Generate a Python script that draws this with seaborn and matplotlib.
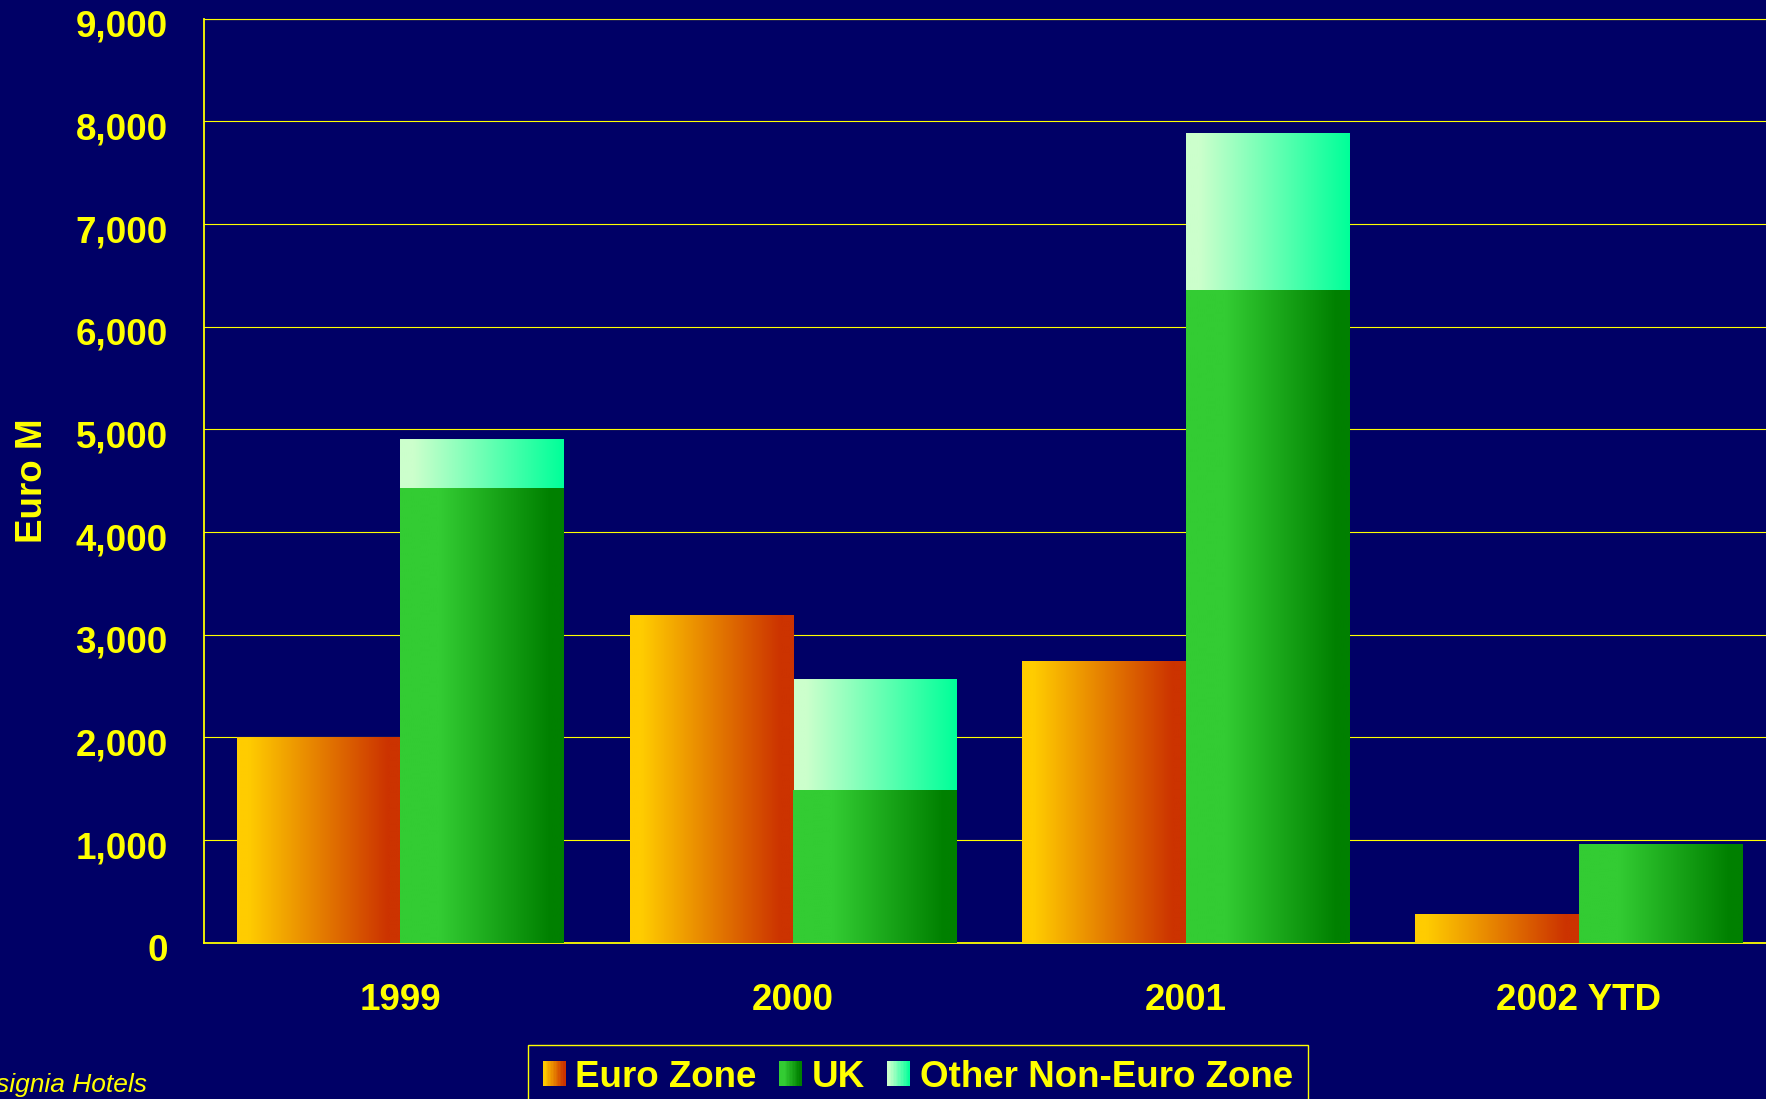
import numpy as np
import pandas as pd
import matplotlib
matplotlib.use("Agg")
import matplotlib.pyplot as plt
import seaborn as sns
from matplotlib.colors import LinearSegmentedColormap
from matplotlib.patches import Rectangle
from matplotlib.legend_handler import HandlerBase
from matplotlib.ticker import FuncFormatter, MultipleLocator
from matplotlib.transforms import ScaledTranslation

# Hotel investment volume by buyer origin (Euro M)
years = ["1999", "2000", "2001", "2002 YTD"]
euro_zone = [2000, 3190, 2740, 280]
uk = [4430, 1490, 6360, 960]
other_non_euro = [470, 1080, 1520, 0]

legend_labels = ["Euro Zone", "UK", "Other Non-Euro Zone"]

NAVY = "#000066"
YELLOW = "#FFFF00"
FS = 26.5

sns.set_style("dark")
plt.rcParams["font.family"] = ["Liberation Sans", "DejaVu Sans"]
plt.rcParams["font.weight"] = "bold"

# horizontal gradient fills for each series
cmap_euro = LinearSegmentedColormap.from_list(
    "euro", [(0.0, "#FFCC00"), (0.07, "#FFCC00"), (0.92, "#CC3300"), (1.0, "#CC3300")])
cmap_uk = LinearSegmentedColormap.from_list(
    "uk", [(0.0, "#33CC33"), (0.24, "#33CC33"), (0.92, "#008000"), (1.0, "#008000")])
cmap_other = LinearSegmentedColormap.from_list(
    "other", [(0.0, "#CCFFCC"), (0.08, "#CCFFCC"), (1.0, "#00FF99")])

fig = plt.figure(figsize=(17.66, 10.99), dpi=100, facecolor=NAVY)
ax = fig.add_axes([0.1155, 0.1422, 0.8896, 0.8408])
ax.set_facecolor(NAVY)

# stacked totals (UK + other non-euro) go underneath, UK and Euro Zone on top
totals = [u + o for u, o in zip(uk, other_non_euro)]
df_top = pd.DataFrame({
    "year": years * 2,
    "region": ["Euro Zone"] * len(years) + ["UK"] * len(years),
    "value": euro_zone + totals,
})
df_base = pd.DataFrame({
    "year": years * 2,
    "region": ["Euro Zone"] * len(years) + ["UK"] * len(years),
    "value": euro_zone + uk,
})

grad = np.linspace(0, 1, 256).reshape(1, -1)


def paint(patches, uk_cmap, z):
    for p in patches:
        x0, y0 = p.get_x(), p.get_y()
        w, h = p.get_width(), p.get_height()
        if h <= 0:
            p.set_visible(False)
            continue
        centre = x0 + w / 2
        is_euro = (centre - round(centre)) < 0
        cmap = cmap_euro if is_euro else uk_cmap
        p.set_facecolor("none")
        p.set_edgecolor("none")
        ax.imshow(grad, extent=(x0, x0 + w, y0, y0 + h), cmap=cmap,
                  aspect="auto", interpolation="bilinear", zorder=z)


n0 = len(ax.patches)
sns.barplot(data=df_top, x="year", y="value", hue="region",
            hue_order=["Euro Zone", "UK"], order=years, width=0.833, gap=0,
            errorbar=None, legend=False, ax=ax)
paint(ax.patches[n0:], cmap_other, 2)

n1 = len(ax.patches)
sns.barplot(data=df_base, x="year", y="value", hue="region",
            hue_order=["Euro Zone", "UK"], order=years, width=0.833, gap=0,
            errorbar=None, legend=False, ax=ax)
paint(ax.patches[n1:], cmap_uk, 3)

ax.set_xlim(-0.5, 3.5)
ax.set_ylim(0, 9000)
ax.yaxis.set_major_locator(MultipleLocator(1000))
ax.yaxis.set_major_formatter(FuncFormatter(lambda v, p: f"{int(v):,}"))
ax.set_xticks(range(len(years)))
ax.set_xticklabels(years)

ax.grid(axis="y", color=YELLOW, linewidth=0.8)
ax.grid(axis="x", visible=False)
ax.set_axisbelow(True)

for side in ("left", "bottom"):
    ax.spines[side].set_visible(True)
    ax.spines[side].set_color(YELLOW)
    ax.spines[side].set_linewidth(1.3)
ax.spines["top"].set_visible(True)
ax.spines["top"].set_color(YELLOW)
ax.spines["top"].set_linewidth(0.8)
ax.spines["right"].set_visible(False)

ax.tick_params(axis="y", length=0, pad=26, labelsize=FS, labelcolor=YELLOW)
ax.tick_params(axis="x", length=0, pad=29, labelsize=FS, labelcolor=YELLOW)
for lab in ax.get_xticklabels() + ax.get_yticklabels():
    lab.set_fontweight("bold")
# y tick labels sit a little below their gridlines
ydown = ScaledTranslation(0, -4.5 / 100, fig.dpi_scale_trans)
for lab in ax.get_yticklabels():
    lab.set_transform(lab.get_transform() + ydown)

ax.set_xlabel("")
ax.set_ylabel("Euro M", color=YELLOW, fontsize=FS, fontweight="bold")
ax.yaxis.set_label_coords(-0.098, 0.5)


class GradientHandler(HandlerBase):
    def __init__(self, cmap, steps=16):
        super().__init__()
        self.cmap = cmap
        self.steps = steps

    def create_artists(self, legend, orig_handle, xdescent, ydescent,
                       width, height, fontsize, trans):
        sw = width / self.steps
        arts = []
        for i in range(self.steps):
            arts.append(Rectangle((-xdescent + i * sw, -ydescent), sw * 1.05, height,
                                  facecolor=self.cmap((i + 0.5) / self.steps),
                                  edgecolor="none", transform=trans))
        return arts


handles = [Rectangle((0, 0), 1, 1) for _ in legend_labels]
hmap = {h: GradientHandler(c) for h, c in zip(handles, [cmap_euro, cmap_uk, cmap_other])}
leg = fig.legend(handles, legend_labels, handler_map=hmap, loc="upper left",
                 bbox_to_anchor=(528 / 1766, 1 - 1045 / 1099), borderaxespad=0,
                 ncol=3, frameon=True, fancybox=False, facecolor=NAVY,
                 edgecolor=YELLOW, framealpha=1, borderpad=0.4,
                 handlelength=0.62, handleheight=0.66, handletextpad=0.27,
                 columnspacing=0.6, prop=dict(size=FS, weight="bold"),
                 labelcolor=YELLOW)
leg.get_frame().set_linewidth(1.0)

fig.text(147.5 / 1766, 1 - 1092 / 1099, "Insignia Hotels", ha="right",
         va="baseline", color=YELLOW, fontsize=19, fontstyle="italic",
         fontweight="normal")

fig.savefig("out.png", dpi=100, facecolor=NAVY)
